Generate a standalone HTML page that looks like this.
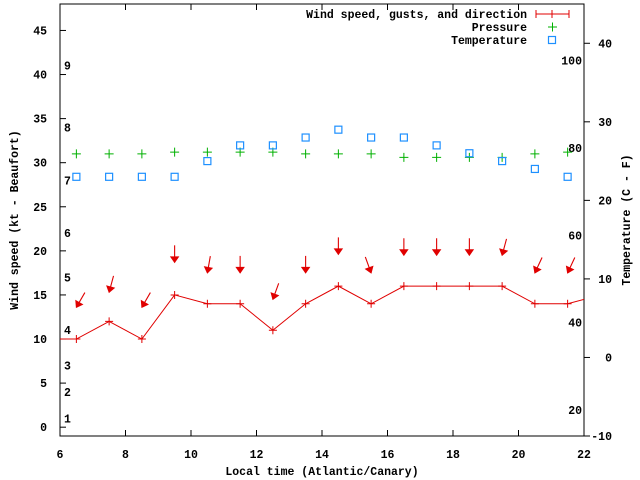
<!DOCTYPE html>
<html><head><meta charset="utf-8">
<style>
html,body{margin:0;padding:0;background:#fff;}
svg{display:block;font-family:"Liberation Mono",monospace;font-weight:bold;font-size:11.5px;}
</style></head>
<body>
<svg id="chart" width="640" height="480" viewBox="0 0 640 480" xmlns="http://www.w3.org/2000/svg">
<rect x="0" y="0" width="640" height="480" fill="#fff"/>
<g id="grid"></g>
<g id="marks"></g>
<g id="legend">
  <text x="527" y="18" text-anchor="end">Wind speed, gusts, and direction</text>
  <g stroke="#e00000" stroke-width="1">
    <line x1="536" y1="14" x2="569" y2="14"/><line x1="536" y1="10" x2="536" y2="18"/><line x1="569" y1="10" x2="569" y2="18"/>
    <line x1="552" y1="10" x2="552" y2="18"/>
  </g>
  <text x="527" y="31" text-anchor="end">Pressure</text>
  <g stroke="#00b000"><line x1="548" y1="27" x2="557" y2="27"/><line x1="552.5" y1="22.5" x2="552.5" y2="31.5"/></g>
  <text x="527" y="44" text-anchor="end">Temperature</text>
  <rect x="548.5" y="36.5" width="7" height="7" fill="none" stroke="#1e90ff" stroke-width="1.2"/>
</g>
<text x="322" y="475" text-anchor="middle">Local time (Atlantic/Canary)</text>
<text transform="translate(18,220) rotate(-90)" text-anchor="middle">Wind speed (kt - Beaufort)</text>
<text transform="translate(630,220) rotate(-90)" text-anchor="middle">Temperature (C - F)</text>
</svg>
<script>
// data
const times = [5.5,6.5,7.5,8.5,9.5,10.5,11.5,12.5,13.5,14.5,15.5,16.5,17.5,18.5,19.5,20.5,21.5,22.5];
const windSpeed = [10,10,12,10,15,14,14,11,14,16,14,16,16,16,16,14,14,15];
const obsTimes = [6.5,7.5,8.5,9.5,10.5,11.5,12.5,13.5,14.5,15.5,16.5,17.5,18.5,19.5,20.5,21.5];
const gusts = [13.6,15.3,13.6,18.7,17.5,17.5,14.5,17.5,19.6,17.5,19.5,19.5,19.5,19.5,17.5,17.5];
const windDir = [30,15,30,0,10,0,20,0,0,340,0,0,0,15,25,25];
const pressure = [31,31,31,31.2,31.2,31.2,31.2,31,31,31,30.6,30.6,30.6,30.6,31,31.2];
const temperature = [23,23,23,23,25,27,27,28,29,28,28,27,26,25,24,23];
const xTicks = [6,8,10,12,14,16,18,20,22];
const yTicks = [0,5,10,15,20,25,30,35,40,45];
const y2Ticks = [-10,0,10,20,30,40];
const beaufortKt = [1,4,7,11,17,22,28,34,41];
const beaufortLabels = ["1","2","3","4","5","6","7","8","9"];
const fahrenheit = [20,40,60,80,100];

const L=60,R=584,T=4,B=436;
const X=t=>L+(t-6)/(22-6)*(R-L);
const Y=v=>B-(v+1)/49*(B-T);
const Y2=c=>B-(c+10)/55*(B-T);
const NS="http://www.w3.org/2000/svg";
function mk(tag,attrs,parent){const e=document.createElementNS(NS,tag);for(const k in attrs)e.setAttribute(k,attrs[k]);parent.appendChild(e);return e;}
const grid=document.getElementById('grid'), marks=document.getElementById('marks');

const frame=mk('rect',{x:L,y:T,width:R-L,height:B-T,fill:'none',stroke:'#000','stroke-width':1},grid);



xTicks.forEach(t=>{
  const g=mk('g',{},grid);
  
  
  mk('line',{x1:X(t),y1:B,x2:X(t),y2:B-6,stroke:'#000'},g);
  mk('line',{x1:X(t),y1:T,x2:X(t),y2:T+6,stroke:'#000'},g);
  const tx=mk('text',{x:X(t),y:458,'text-anchor':'middle'},g);tx.textContent=t;
});
yTicks.forEach(v=>{
  const g=mk('g',{},grid);
  
  
  mk('line',{x1:L,y1:Y(v),x2:L+6,y2:Y(v),stroke:'#000'},g);
  const tx=mk('text',{x:47,y:Y(v)+4,'text-anchor':'end'},g);tx.textContent=v;
});
y2Ticks.forEach(v=>{
  const g=mk('g',{},grid);
  
  
  mk('line',{x1:R,y1:Y2(v),x2:R+6,y2:Y2(v),stroke:'#000'},g);
  const tx=mk('text',{x:612,y:Y2(v)+4,'text-anchor':'end'},g);tx.textContent=v;
});
beaufortKt.forEach((k,i)=>{
  const tx=mk('text',{x:64,y:Y(k)+4},grid);
  
  
  tx.textContent=beaufortLabels[i];
});
fahrenheit.forEach(f=>{
  const tx=mk('text',{x:582,y:Y2((f-32)*5/9)+4,'text-anchor':'end'},grid);
  
  
  tx.textContent=f;
});

const defs=mk('defs',{},marks);
const cp=mk('clipPath',{id:'clip'},defs);
mk('rect',{x:L,y:T,width:R-L,height:B-T},cp);
const plot=mk('g',{'clip-path':'url(#clip)'},marks);

const wl=mk('polyline',{points:times.map((t,i)=>X(t)+','+Y(windSpeed[i])).join(' '),fill:'none',stroke:'#e00000','stroke-width':1},plot);


times.forEach((t,i)=>{
  const x=X(t),y=Y(windSpeed[i]);
  const p=mk('path',{d:`M${x-4},${y}H${x+4}M${x},${y-4}V${y+4}`,stroke:'#e00000'},plot);
  
  
});
obsTimes.forEach((t,i)=>{
  const x=X(t),y=Y(gusts[i]);const a=windDir[i]*Math.PI/180;
  const dx=Math.sin(a),dy=-Math.cos(a);const Ln=17;
  const tx=x+dx*Ln,ty=y+dy*Ln;
  const px=-dy,py=dx;
  const g=mk('g',{},plot);
  
  
  mk('line',{x1:tx,y1:ty,x2:x,y2:y,stroke:'#e00000','stroke-width':1.1},g);
  const bx=x+dx*5.5,by=y+dy*5.5;
  mk('polygon',{points:`${x},${y} ${bx+px*3.8},${by+py*3.8} ${bx-px*3.8},${by-py*3.8}`,fill:'#e00000',stroke:'#e00000'},g);
});
obsTimes.forEach((t,i)=>{
  const x=X(t),y=Y(pressure[i]);
  const p=mk('path',{d:`M${x-4.5},${y}H${x+4.5}M${x},${y-4.5}V${y+4.5}`,stroke:'#00b000'},plot);
  
  
});
obsTimes.forEach((t,i)=>{
  const x=X(t),y=Y2(temperature[i]);
  const r=mk('rect',{x:x-3.5,y:y-3.5,width:7,height:7,fill:'none',stroke:'#1e90ff','stroke-width':1.2},plot);
  
  
});
</script>
</body></html>
